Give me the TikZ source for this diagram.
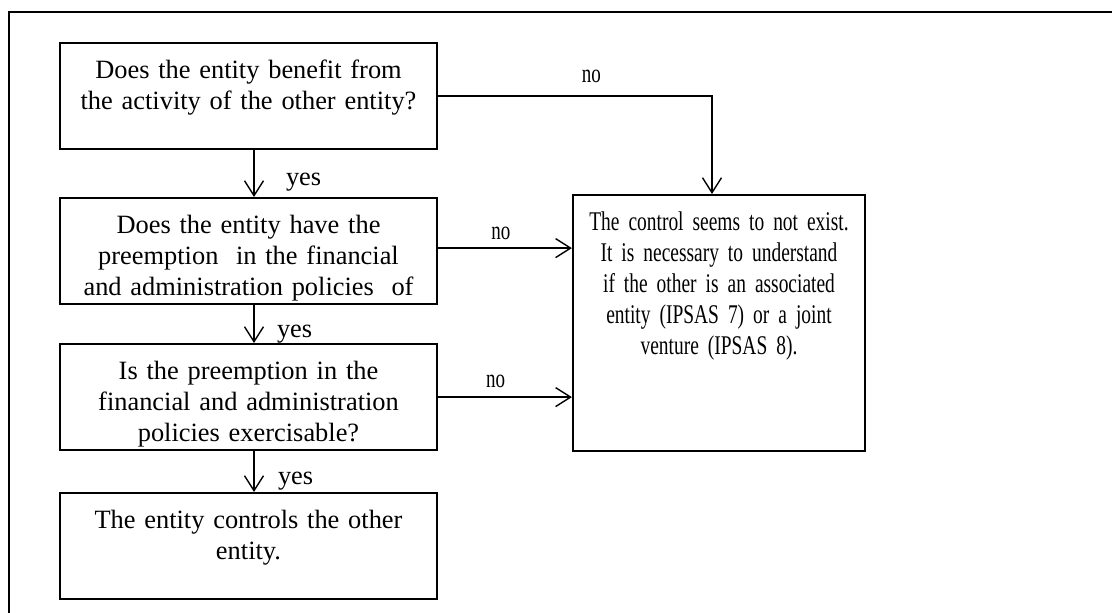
\documentclass[tikz,border=0pt]{standalone}
\usepackage{fontspec}
\setmainfont{Liberation Serif}
\newfontfamily\narrowserif{Liberation Serif}[FakeStretch=0.72, WordSpace=0.7]
\usetikzlibrary{positioning,arrows.meta}

\begin{document}
\begin{tikzpicture}[x=1pt, y=-1pt,
  font=\fontsize{26.4}{31}\selectfont,
  qbox/.style={draw, line width=2.2pt, align=center, anchor=north, inner xsep=0pt, inner ysep=0pt,
    text width=377pt, text height=35pt, text depth=71pt},
  arr/.style={-{Straight Barb[length=15pt, width=19pt, line width=1.4pt]}, line width=1.4pt},
  nolbl/.style={font=\fontsize{26.4}{31}\narrowserif}]
\useasboundingbox (0,0) rectangle (1112,613);
% frame, open at the bottom and on the right
\draw[line width=2.4pt] (9,613) -- (9,12) -- (1112,12);
\node[qbox] (benefit) at (248.5,42) {Does the entity benefit from\\the activity of the other entity?};
\node[qbox] (preempt) at (248.5,197) {Does the entity have the\\preemption\ \ in the financial\\and administration policies\ \ of};
\node[qbox] (exercise) at (248.5,343) {Is the preemption in the\\financial and administration\\policies exercisable?};
\node[qbox] (controls) at (248.5,492) {The entity controls the other\\entity.};
\node[qbox, text width=292pt, text depth=221pt, font=\fontsize{27}{31}\narrowserif] (noctrl) at (719,194)
  {The control seems to not exist.\\It is necessary to understand\\if the other is an associated\\entity (IPSAS 7) or a joint\\venture (IPSAS 8).};
% yes
\draw[arr] ([xshift=5.5pt]benefit.south) -- node[pos=0.69, right=28pt]{yes} ([xshift=5.5pt]preempt.north);
\draw[arr] ([xshift=5.5pt]preempt.south) -- node[pos=0.77, right=19pt]{yes} ([xshift=5.5pt]exercise.north);
\draw[arr] ([xshift=5.5pt]exercise.south) -- node[pos=0.73, right=20pt]{yes} ([xshift=5.5pt]controls.north);
% no
\draw[arr] (benefit.east) -| node[nolbl, pos=0.28, above=9pt]{no} ([xshift=-7pt]noctrl.north);
\draw[arr] ([yshift=3pt]preempt.east) -- node[nolbl, pos=0.47, above=4pt]{no} ([yshift=3pt]preempt.east -| noctrl.west);
\draw[arr] (exercise.east) -- node[nolbl, pos=0.43, above=5pt]{no} (exercise.east -| noctrl.west);
\end{tikzpicture}
\end{document}
